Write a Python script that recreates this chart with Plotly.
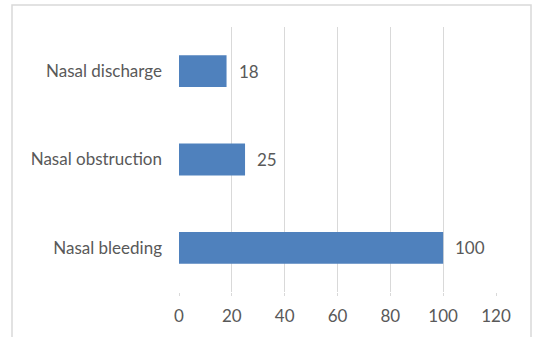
import plotly.graph_objects as go

categories = ["Nasal bleeding", "Nasal obstruction", "Nasal discharge"]
values = [100, 25, 18]
x_ticks = [0, 20, 40, 60, 80, 100, 120]

W, H = 536, 337
L, R, T, B = 179, 40, 27, 45
pw, ph = W - L - R, H - T - B

def px_x(p):
    return (p - L) / pw

def px_y(p):
    return (H - B - p) / ph

FONT = "Lato"
FS = 17
COL = "#595959"

fig = go.Figure()
fig.add_trace(go.Bar(
    x=values, y=categories, orientation="h",
    marker=dict(color="#4F81BD", line=dict(width=0)),
    width=0.36,
))

for v, c in zip(values, categories):
    fig.add_annotation(x=v, y=c, text=str(v), showarrow=False,
                       xanchor="left", xshift=10,
                       font=dict(family=FONT, size=FS, color=COL))

fig.add_shape(type="rect", xref="paper", yref="paper",
              x0=px_x(12), x1=px_x(531), y0=px_y(345), y1=px_y(5),
              line=dict(color="#d9d9d9", width=1.5), layer="below")

fig.update_layout(
    width=W, height=H,
    margin=dict(l=L, r=R, t=T, b=B),
    paper_bgcolor="white", plot_bgcolor="white",
    showlegend=False,
    font=dict(family=FONT, size=FS, color=COL),
    xaxis=dict(range=[0, 120], tickvals=x_ticks, showgrid=True,
               gridcolor="#d9d9d9", gridwidth=1, zeroline=False,
               ticks="outside", ticklen=3, tickcolor="#d9d9d9",
               showline=False, tickfont=dict(size=FS, color=COL),
               ticklabelstandoff=6, fixedrange=True),
    yaxis=dict(categoryorder="array", categoryarray=categories,
               showgrid=False, zeroline=False, showline=False,
               ticks="", ticklabelstandoff=16,
               tickfont=dict(size=FS, color=COL)),
)

fig.write_html("out.html")
